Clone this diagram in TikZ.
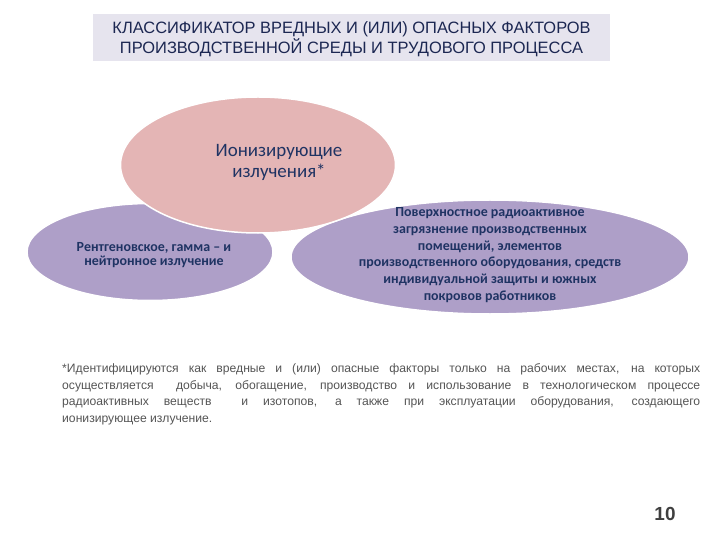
\documentclass[tikz,border=0pt]{standalone}
\usepackage{fontspec}
\setmainfont{Liberation Sans}
\newfontfamily\calib{Carlito}
\usetikzlibrary{shapes.geometric}
\definecolor{navy}{HTML}{1F3363}
\definecolor{titlenavy}{HTML}{1C2752}
\definecolor{titlefill}{HTML}{E6E4EE}
\definecolor{pinkfill}{HTML}{E4B5B5}
\definecolor{purplefill}{HTML}{AE9FC8}
\definecolor{notegray}{HTML}{555555}
\definecolor{numgray}{HTML}{3F3F3F}
\tikzset{
  titlebox/.style={fill=titlefill, draw=none, inner sep=0pt},
  titletext/.style={text=titlenavy, inner sep=0pt, align=center,
    font=\fontsize{16.5}{20}\selectfont},
  blob/.style={ellipse, draw=white, line width=1.5bp, inner sep=0pt},
  pinkblob/.style={blob, fill=pinkfill},
  purpleblob/.style={blob, fill=purplefill},
  blobtext/.style={text=navy, align=center, inner sep=0pt,
    font=\calib\bfseries\fontsize{14}{16.8}\selectfont},
  smallblobtext/.style={blobtext, font=\calib\bfseries\fontsize{14}{14.5}\selectfont},
  bigtext/.style={text=navy, align=center, inner sep=0pt,
    font=\calib\fontsize{19}{21}\selectfont},
  note/.style={text=notegray, align=justify, inner sep=0pt, text width=638bp,
    font=\fontsize{12.2}{17}\selectfont},
  pagenum/.style={text=numgray, inner sep=0pt, font=\bfseries\fontsize{19}{22}\selectfont}
}
\begin{document}
\begin{tikzpicture}[x=1bp,y=-1bp]
\useasboundingbox (0,0) rectangle (720,540);
\fill[white] (0,0) rectangle (720,540);

\node[titlebox, minimum width=517bp, minimum height=47bp] (title) at (351.5,37.5) {};
\node[titletext] (titlelabel) at (351.5,39)
  {КЛАССИФИКАТОР ВРЕДНЫХ И (ИЛИ) ОПАСНЫХ ФАКТОРОВ\\ПРОИЗВОДСТВЕННОЙ СРЕДЫ И ТРУДОВОГО ПРОЦЕССА};

\node[purpleblob, minimum width=246bp, minimum height=97bp] (left) at (150,252) {};
\node[purpleblob, minimum width=398bp, minimum height=114bp] (right) at (490,257) {};
\node[pinkblob, minimum width=275bp, minimum height=136bp] (top) at (258,165) {};

\node[bigtext] (toptext) at (279,162) {Ионизирующие\\излучения*};
\node[smallblobtext] (lefttext) at (154,255) {Рентгеновское, гамма – и\\нейтронное излучение};
\node[blobtext] (righttext) at (490,255) {Поверхностное радиоактивное\\загрязнение производственных\\помещений, элементов\\производственного оборудования, средств\\индивидуальной защиты и южных\\покровов работников};

\node[note, anchor=north west] (footnote) at (62,363)
  {\hyphenpenalty=10000 *Идентифицируются как вредные и (или) опасные факторы только на рабочих местах, на которых\linebreak
  осуществляется \ добыча, обогащение, производство и использование в технологическом процессе\linebreak
  радиоактивных веществ \ и изотопов, а также при эксплуатации оборудования, создающего\linebreak
  ионизирующее излучение.};

\node[pagenum] (page) at (665,514) {10};
\end{tikzpicture}
\end{document}
